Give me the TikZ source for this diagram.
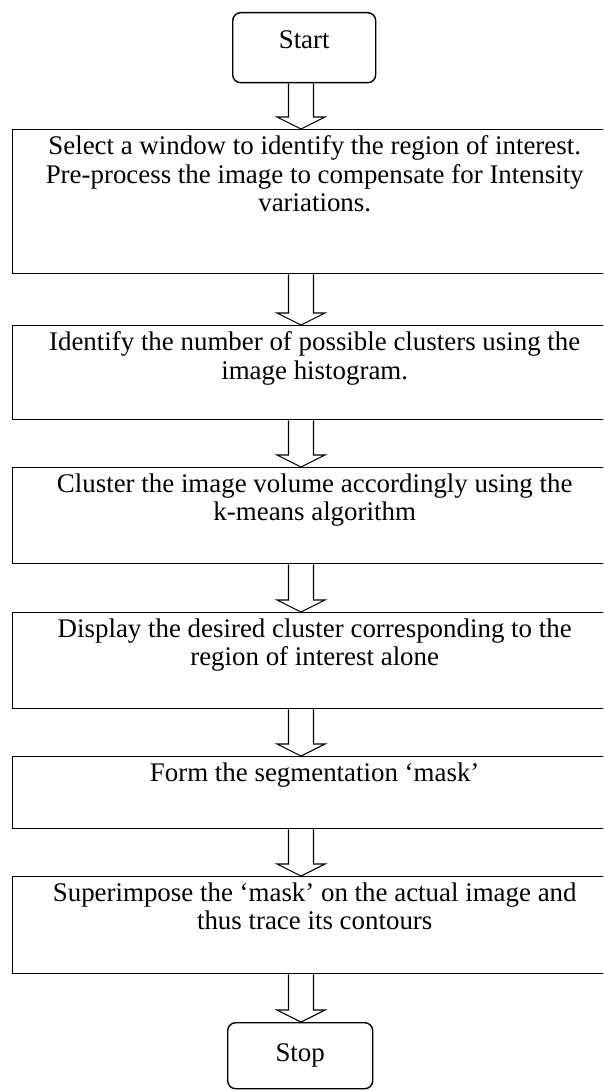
\documentclass[tikz,border=0pt]{standalone}
\usepackage{fontspec}
\setmainfont{Liberation Serif}
\usetikzlibrary{calc}
\tikzset{
  stepbox/.style={draw, line width=1.4pt, inner sep=0pt, anchor=north west},
  termbox/.style={draw, line width=1.4pt, rounded corners=8pt, inner sep=0pt,
    anchor=north west, font=\fontsize{26.9}{28.5}\selectfont},
  hollowarrow/.style={draw, line width=1.1pt, line join=miter},
}
\newcommand{\stepcontent}[2]{\parbox[t][#1][t]{604pt}{\fontsize{26.9}{28.5}\selectfont\centering\vspace*{6pt}#2}\hspace*{24pt}}
\newcommand{\flowarrow}[2]{%
  \draw[hollowarrow] let \p1=(#1.south), \p2=(#2.north), \p3=(axis) in
    (\x3-12.5pt,\y1) -- (\x3-12.5pt,\y2+12pt) -- (\x3-24pt,\y2+12pt) -- (\x3,\y2)
    -- (\x3+24pt,\y2+12pt) -- (\x3+12.5pt,\y2+12pt) -- (\x3+12.5pt,\y1);}
\begin{document}
\begin{tikzpicture}[x=1pt,y=-1pt]
  \useasboundingbox (0,0) rectangle (603,1091);
  \clip (0,0) rectangle (603,1091);
  \coordinate (axis) at (301,0);
  \node[termbox, minimum width=143pt, minimum height=70pt, text depth=16pt] (start) at (232,12) {Start};
  \node[stepbox] (s1) at (12,129) {\stepcontent{144pt}{Select a window to identify the region of interest.\\ Pre-process the image to compensate for Intensity\\ variations.}};
  \node[stepbox] (s2) at (12,325) {\stepcontent{94pt}{Identify the number of possible clusters using the\\ image histogram.}};
  \node[stepbox] (s3) at (12,467) {\stepcontent{96pt}{Cluster the image volume accordingly using the\\ k-means algorithm}};
  \node[stepbox] (s4) at (12,612) {\stepcontent{96pt}{Display the desired cluster corresponding to the\\ region of interest alone}};
  \node[stepbox] (s5) at (12,756) {\stepcontent{72pt}{Form the segmentation ‘mask’}};
  \node[stepbox] (s6) at (12,876) {\stepcontent{97pt}{Superimpose the ‘mask’ on the actual image and\\ thus trace its contours}};
  \node[termbox, minimum width=145pt, minimum height=66pt] (stop) at (227,1022) {Stop};
  \flowarrow{start}{s1}
  \flowarrow{s1}{s2}
  \flowarrow{s2}{s3}
  \flowarrow{s3}{s4}
  \flowarrow{s4}{s5}
  \flowarrow{s5}{s6}
  \flowarrow{s6}{stop}
\end{tikzpicture}
\end{document}
